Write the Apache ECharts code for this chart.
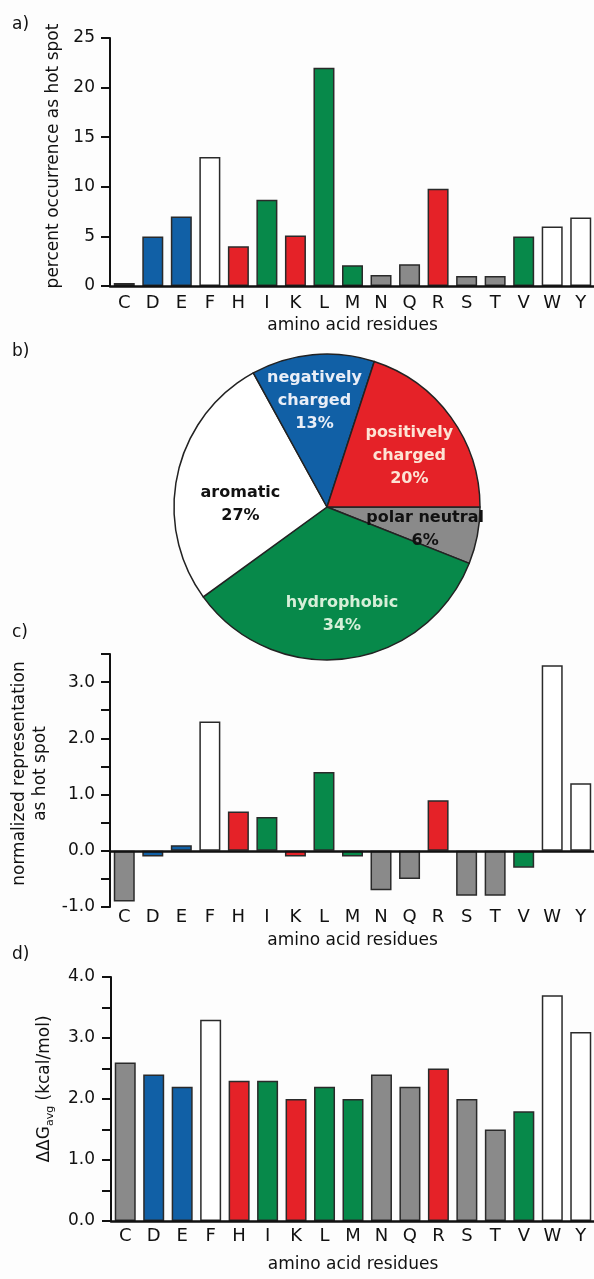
<!DOCTYPE html>
<html><head><meta charset="utf-8">
<script src="https://cdn.jsdelivr.net/npm/echarts@6/dist/echarts.min.js"></script>
<style>html,body{margin:0;padding:0;background:#fdfdfd}#c{width:594px;height:1279px}</style>
</head><body><div id="c"></div>
<script>
// ---------- data ----------
const residues = ['C','D','E','F','H','I','K','L','M','N','Q','R','S','T','V','W','Y'];
const residueClass = ['polar','neg','neg','arom','pos','hyd','pos','hyd','hyd','polar','polar','pos','polar','polar','hyd','arom','arom'];
const percentHotSpot = [0.3,5,7,13,4,8.7,5.1,22,2.1,1.1,2.2,9.8,1,1,5,6,6.9];
const pieClasses = ['polar','hyd','arom','neg','pos'];
const pieNames = ['polar neutral','hydrophobic','aromatic','negatively charged','positively charged'];
const piePercent = [6,34,27,13,20];
const normalizedRep = [-0.9,-0.1,0.1,2.3,0.7,0.6,-0.1,1.4,-0.1,-0.7,-0.5,0.9,-0.8,-0.8,-0.3,3.3,1.2];
const ddgAvg = [2.6,2.4,2.2,3.3,2.3,2.3,2.0,2.2,2.0,2.4,2.2,2.5,2.0,1.5,1.8,3.7,3.1];
const percentTicks = [0,5,10,15,20,25];
const normTicks = [-1,0,1,2,3];
const ddgTicks = [0,1,2,3,4];

// ---------- styles ----------
const font = 'DejaVu Sans';
const ink = '#111';
const classColor = {polar:'#8a8a8a', neg:'#1160a6', pos:'#e52228', hyd:'#07894a', arom:'#ffffff'};
const pieLabelColor = {polar:'#111', hyd:'#d6efd8', arom:'#111', neg:'#e9eef7', pos:'#fde3d4'};
const pieLabelOffset = [[20,7],[5,28],[-9,15],[-5,-27],[18,-4]];

function isTick(list, v){ return list.some(t => Math.abs(t - v) < 1e-9); }

const catLabel = (margin) => ({show:true, interval:0, margin:margin, fontSize:18, color:ink, fontFamily:font});
const nameStyle = {fontSize:17, color:ink, fontFamily:font};
const yLine = {show:true, lineStyle:{color:ink, width:2}};
const yTick = {show:true, length:9, lineStyle:{color:ink, width:2}};
const barStyle = {
  color: p => classColor[residueClass[p.dataIndex]],
  borderColor:'#2a2a2a', borderWidth:1.5
};

const option = {
  animation:false,
  backgroundColor:'#fdfdfd',
  title:[
    {text:'a)', left:12, top:16, padding:0, textStyle:{fontSize:17, fontWeight:'normal', color:ink, fontFamily:font}},
    {text:'b)', left:12, top:343, padding:0, textStyle:{fontSize:17, fontWeight:'normal', color:ink, fontFamily:font}},
    {text:'c)', left:12, top:624, padding:0, textStyle:{fontSize:17, fontWeight:'normal', color:ink, fontFamily:font}},
    {text:'d)', left:12, top:946, padding:0, textStyle:{fontSize:17, fontWeight:'normal', color:ink, fontFamily:font}}
  ],
  grid:[
    {left:110, top:38, width:485, height:248, outerBoundsMode:'none'},
    {left:110, top:654, width:485, height:253, outerBoundsMode:'none'},
    {left:111, top:977, width:484, height:244, outerBoundsMode:'none'}
  ],
  xAxis:[
    {type:'category', gridIndex:0, data:residues, position:'bottom', z:5,
     axisLine:{show:true, lineStyle:{color:ink, width:2.5}}, axisTick:{show:false},
     axisLabel:catLabel(8),
     name:'amino acid residues', nameLocation:'middle', nameGap:31, nameTextStyle:nameStyle},
    {type:'category', gridIndex:1, data:residues, position:'bottom', z:5,
     axisLine:{show:true, onZero:true, lineStyle:{color:ink, width:2.5}}, axisTick:{show:false},
     axisLabel:{show:false}},
    {type:'category', gridIndex:1, data:residues, position:'bottom',
     axisLine:{show:false, onZero:false}, axisTick:{show:false},
     axisLabel:catLabel(1),
     name:'amino acid residues', nameLocation:'middle', nameGap:25, nameTextStyle:nameStyle},
    {type:'category', gridIndex:2, data:residues, position:'bottom', z:5,
     axisLine:{show:true, lineStyle:{color:ink, width:2.5}}, axisTick:{show:false},
     axisLabel:catLabel(6),
     name:'amino acid residues', nameLocation:'middle', nameGap:35, nameTextStyle:nameStyle}
  ],
  yAxis:[
    {type:'value', gridIndex:0, min:percentTicks[0], max:percentTicks[percentTicks.length-1], interval:5,
     axisLine:yLine, axisTick:yTick, splitLine:{show:false},
     axisLabel:{margin:15, fontSize:17, color:ink, fontFamily:font,
       formatter:v => isTick(percentTicks, v) ? String(v) : ''},
     name:'percent occurrence as hot spot', nameLocation:'middle', nameRotate:90, nameGap:47,
     nameTextStyle:Object.assign({padding:[0,0,0,12]}, nameStyle)},
    {type:'value', gridIndex:1, min:-1, max:3.5, interval:0.5,
     axisLine:yLine, axisTick:yTick, splitLine:{show:false},
     axisLabel:{margin:15, fontSize:17, color:ink, fontFamily:font,
       formatter:v => isTick(normTicks, v) ? v.toFixed(1) : ''},
     name:'normalized representation\nas hot spot', nameLocation:'middle', nameRotate:90, nameGap:47,
     nameTextStyle:Object.assign({padding:[0,0,0,14], lineHeight:21}, nameStyle)},
    {type:'value', gridIndex:2, min:0, max:4, interval:0.5,
     axisLine:yLine, axisTick:yTick, splitLine:{show:false},
     axisLabel:{margin:16, fontSize:17, color:ink, fontFamily:font,
       formatter:v => isTick(ddgTicks, v) ? v.toFixed(1) : ''},
     name:'{a|ΔΔG}{s|avg}{a| (kcal/mol)}', nameLocation:'middle', nameRotate:90, nameGap:55,
     nameTextStyle:{padding:[0,0,0,20], rich:{
       a:{fontSize:17, color:ink, fontFamily:font, lineHeight:22, verticalAlign:'middle'},
       s:{fontSize:11, color:ink, fontFamily:font, lineHeight:11, verticalAlign:'bottom'}}}}
  ],
  series:[
    {type:'bar', xAxisIndex:0, yAxisIndex:0, data:percentHotSpot, barWidth:21, itemStyle:barStyle, silent:true},
    {type:'pie', center:[327,507], radius:153, startAngle:0, clockwise:true, silent:true,
     itemStyle:{borderColor:'#222', borderWidth:1.5},
     label:{show:true, position:'inside', fontFamily:font, fontWeight:'bold', fontSize:16, lineHeight:23,
       formatter:p => p.name.replace(' charged','\ncharged') + '\n' + p.value + '%'},
     labelLine:{show:false},
     labelLayout:p => ({dx:pieLabelOffset[p.dataIndex][0], dy:pieLabelOffset[p.dataIndex][1]}),
     data:pieClasses.map((c,i) => ({name:pieNames[i], value:piePercent[i],
       itemStyle:{color:classColor[c]}, label:{color:pieLabelColor[c]}}))},
    {type:'bar', xAxisIndex:1, yAxisIndex:1, data:normalizedRep, barWidth:21, itemStyle:barStyle, silent:true},
    {type:'bar', xAxisIndex:3, yAxisIndex:2, data:ddgAvg, barWidth:21, itemStyle:barStyle, silent:true}
  ]
};
const chart = echarts.init(document.getElementById('c'), null, {renderer:'canvas'});
chart.setOption(option);
</script></body></html>
